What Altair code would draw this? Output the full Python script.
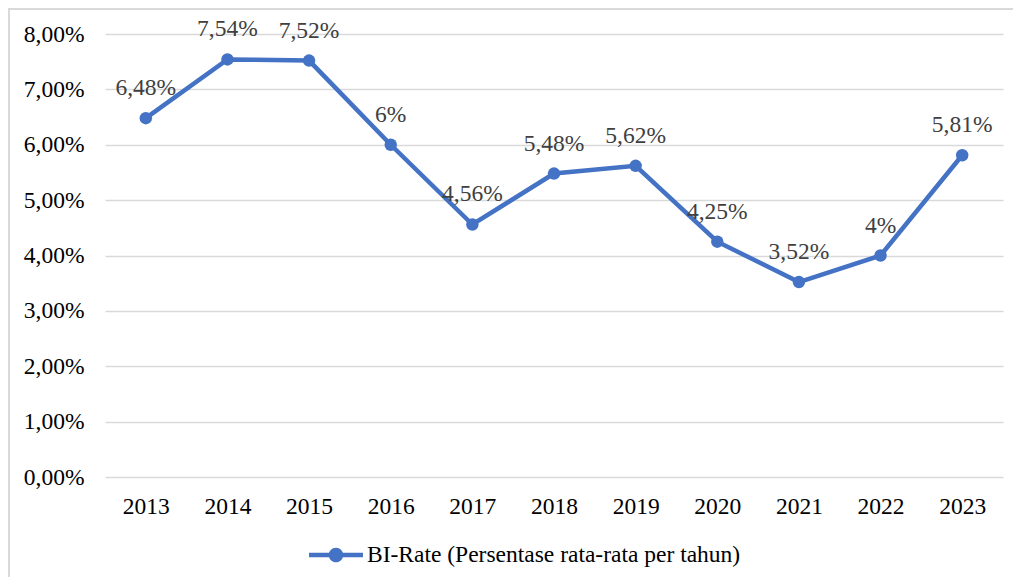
import altair as alt
import pandas as pd

years = ["2013", "2014", "2015", "2016", "2017", "2018", "2019", "2020", "2021", "2022", "2023"]
rates = [6.48, 7.54, 7.52, 6.00, 4.56, 5.48, 5.62, 4.25, 3.52, 4.00, 5.81]
labels = ["6,48%", "7,54%", "7,52%", "6%", "4,56%", "5,48%", "5,62%", "4,25%", "3,52%", "4%", "5,81%"]
series_name = "BI-Rate (Persentase rata-rata per tahun)"
y_ticks = [0, 1, 2, 3, 4, 5, 6, 7, 8]

df = pd.DataFrame({"year": years, "rate": rates, "label": labels, "series": series_name})

BLUE = "#4472C4"
FONT = "Liberation Serif"
FS = 23.5

x = alt.X("year:O", title=None, sort=years,
          scale=alt.Scale(paddingOuter=0.5, paddingInner=0),
          axis=alt.Axis(labelAngle=0, ticks=False, domain=False, labelPadding=17,
                        labelFontSize=FS, labelFont=FONT, labelColor="#000000",
                        labelBaseline="top"))
y = alt.Y("rate:Q", title=None, scale=alt.Scale(domain=[0, 8], nice=False),
          axis=alt.Axis(values=y_ticks, ticks=False, domain=False, labelPadding=21,
                        labelFontSize=FS, labelFont=FONT, labelColor="#000000",
                        gridColor="#d9d9d9", gridWidth=1.3,
                        labelExpr="replace(format(datum.value, '.2f'), '.', ',') + '%'"))

base = alt.Chart(df)

line = base.mark_line(strokeWidth=4.5, color=BLUE).encode(x=x, y=y)

legend_path = ("M-1,-0.08 H1 V0.08 H-1 Z "
               "M-0.27,0 A0.27,0.27 0 1 1 0.27,0 A0.27,0.27 0 1 1 -0.27,0 Z")

points = base.mark_point(filled=True, size=155, opacity=1).encode(
    x=x, y=y,
    color=alt.Color("series:N", scale=alt.Scale(range=[BLUE]),
                    legend=alt.Legend(title=None, orient="none", legendX=204, legendY=494,
                                      symbolType=legend_path, symbolSize=2916,
                                      symbolStrokeWidth=0, symbolOpacity=1,
                                      labelFont=FONT, labelFontSize=FS, labelColor="#000000",
                                      labelOffset=4, labelLimit=600))
)

text = base.mark_text(baseline="alphabetic", dy=-23, font=FONT, fontSize=FS,
                      color="#404040").encode(x=x, y=y, text="label:N")

frame = base.mark_rect(filled=False, stroke="#d9d9d9", strokeWidth=1.5, clip=False).encode(
    x=alt.value(-96), x2=alt.value(1000), y=alt.value(-25), y2=alt.value(600)
)

chart = alt.layer(frame, line, points, text).properties(
    width=898, height=443,
    autosize=alt.AutoSizeParams(type="none"),
    padding={"left": 97, "top": 26, "right": 10, "bottom": 100},
).configure_view(stroke=None).configure_axis(grid=True).configure_axisX(grid=False)

chart.save("out.html", embed_options={"renderer": "svg", "actions": False})
